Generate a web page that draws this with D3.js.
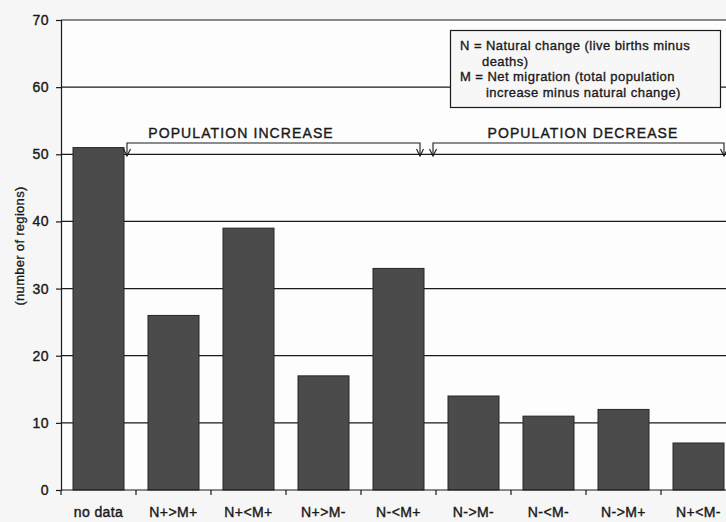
<!DOCTYPE html>
<html><head><meta charset="utf-8">
<script src="https://cdn.jsdelivr.net/npm/d3@7/dist/d3.min.js"></script>
<style>
html,body{margin:0;padding:0;background:#f6f6f6;overflow:hidden;}
svg{display:block;font-family:"Liberation Sans",Arial,Helvetica,sans-serif;}
</style></head>
<body>
<svg id="chart" width="726" height="522"></svg>
<script>
const categories = ["no data","N+>M+","N+<M+","N+>M-","N-<M+","N->M-","N-<M-","N->M+","N+<M-"];
const values = [51,26,39,17,33,14,11,12,7];
const yTicks = [0,10,20,30,40,50,60,70];
const yLabel = "(number of regions)";
const groupLabels = ["POPULATION INCREASE","POPULATION DECREASE"];
const legendLines = [
  {t:"N = Natural change (live births minus", indent:0},
  {t:"deaths)", indent:22},
  {t:"M = Net migration (total population", indent:0},
  {t:"increase minus natural change)", indent:26}
];

const svg = d3.select("#chart");
const pL = 61, pT = 20, pB = 490, pR = 736;
const x = d3.scaleBand().domain(categories).range([pL,pR]).paddingInner(0.32).paddingOuter(0.16);
const y = d3.scaleLinear().domain([0,70]).range([pB,pT]);

// plot background
svg.append("rect").attr("x",pL).attr("y",pT).attr("width",726-pL).attr("height",pB-pT).attr("fill","#fdfdfd");

// gridlines
svg.append("g").selectAll("line").data(yTicks.filter(d=>d>0)).join("line")
  .attr("x1",pL).attr("x2",726).attr("y1",d=>y(d)).attr("y2",d=>y(d))
  .attr("stroke","#1a1a1a").attr("stroke-width",1.2);

// bars
svg.append("g").selectAll("rect").data(categories).join("rect")
  .attr("x",d=>x(d)).attr("width",x.bandwidth())
  .attr("y",(d,i)=>y(values[i])).attr("height",(d,i)=>y(0)-y(values[i]))
  .attr("fill","#4b4b4b").attr("stroke","#262626").attr("stroke-width",1);

// y axis
const ya = svg.append("g").attr("transform",`translate(${pL},0)`)
  .call(d3.axisLeft(y).tickValues(yTicks).tickSize(5).tickPadding(7).tickFormat(d3.format("d")));
ya.select(".domain").attr("stroke","#1a1a1a").attr("stroke-width",1.2);
ya.selectAll(".tick line").attr("stroke","#1a1a1a").attr("stroke-width",1.2);
ya.selectAll(".tick text").attr("font-size",14).attr("fill","#1a1a1a").attr("letter-spacing",0.5)
  .attr("font-family","'Liberation Sans',Arial,sans-serif").attr("stroke","#1a1a1a").attr("stroke-width",0.4);

// x axis
const xa = svg.append("g").attr("transform",`translate(0,${pB})`)
  .call(d3.axisBottom(x).tickSize(0).tickPadding(17));
xa.select(".domain").attr("stroke","#1a1a1a").attr("stroke-width",1.2).attr("d",`M${pL},0H726`);
xa.selectAll(".tick text").attr("font-size",14).attr("fill","#1a1a1a").attr("letter-spacing",0.4)
  .attr("font-family","'Liberation Sans',Arial,sans-serif").attr("stroke","#1a1a1a").attr("stroke-width",0.4);
// boundary ticks
const bounds = d3.range(categories.length+1).map(i=>pL + i*x.step());
svg.append("g").selectAll("line").data(bounds.filter(b=>b<=726)).join("line")
  .attr("x1",d=>d).attr("x2",d=>d).attr("y1",pB).attr("y2",pB+5)
  .attr("stroke","#1a1a1a").attr("stroke-width",1.2);

// y label
svg.append("text").attr("transform","translate(24,246) rotate(-90)")
  .attr("text-anchor","middle").attr("font-size",13).attr("fill","#1a1a1a").attr("letter-spacing",0.3)
  .attr("stroke","#1a1a1a").attr("stroke-width",0.3).text(yLabel);

// brackets
const bracketTop = 143, bracketBot = 156;
function bracket(x1,x2,label,cx){
  const g = svg.append("g").attr("stroke","#1a1a1a").attr("fill","none").attr("stroke-width",1.1);
  g.append("path").attr("d",`M${x1},${bracketBot}V${bracketTop}H${x2}V${bracketBot}`);
  const arrow = xx => g.append("path").attr("d",`M${xx-3.5},${bracketBot-7}L${xx},${bracketBot}L${xx+3.5},${bracketBot-7}`);
  arrow(x1); arrow(x2);
  svg.append("text").attr("x",cx).attr("y",138).attr("text-anchor","middle")
    .attr("font-size",14).attr("fill","#1a1a1a").attr("stroke","#1a1a1a").attr("stroke-width",0.4)
    .attr("letter-spacing",1.1).text(label);
}
const incL = x(categories[0]) + x.bandwidth() + 3;
const incR = bounds[5] - 16;
const decL = bounds[5] - 3;
const decR = 724;
bracket(incL, incR, groupLabels[0], 241);
bracket(decL, decR, groupLabels[1], 583);

// legend box
const lg = svg.append("g");
lg.append("rect").attr("x",450.5).attr("y",30.5).attr("width",270).attr("height",77)
  .attr("fill","#f7f7f7").attr("stroke","#1a1a1a").attr("stroke-width",1.2);
lg.selectAll("text").data(legendLines).join("text")
  .attr("x",d=>460+d.indent).attr("y",(d,i)=>50+i*15.5)
  .attr("font-size",13).attr("fill","#1a1a1a").attr("stroke","#1a1a1a").attr("stroke-width",0.35)
  .attr("letter-spacing",0.45)
  .text(d=>d.t);
</script>
</body></html>
